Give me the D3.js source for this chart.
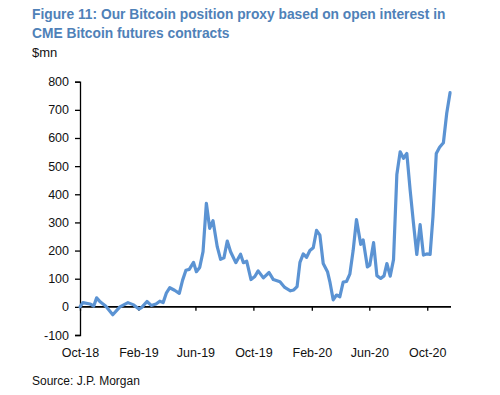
<!DOCTYPE html>
<html>
<head>
<meta charset="utf-8">
<script src="https://cdn.jsdelivr.net/npm/d3@7"></script>
<style>
  html, body { margin: 0; padding: 0; background: #fff; }
  svg { display: block; font-family: "Liberation Sans", Arial, sans-serif; }
</style>
</head>
<body>
<svg id="chart" width="500" height="395"></svg>
<script>
const titleLines = ["Figure 11: Our Bitcoin position proxy based on open interest in", "CME Bitcoin futures contracts"];
const unitLabel = "$mn";
const sourceText = "Source: J.P. Morgan";

const dates = [
  "2018-10-01","2018-10-07","2018-10-22","2018-10-30","2018-11-05","2018-11-13","2018-11-24","2018-12-09","2018-12-24",
  "2019-01-10","2019-01-22","2019-02-02","2019-02-08","2019-02-19","2019-02-28","2019-03-10","2019-03-18","2019-03-25",
  "2019-04-01","2019-04-08","2019-04-18","2019-04-28","2019-05-05","2019-05-12","2019-05-19","2019-05-28","2019-06-03",
  "2019-06-10","2019-06-17","2019-06-24","2019-07-01","2019-07-08","2019-07-17","2019-07-24","2019-07-31","2019-08-07",
  "2019-08-14","2019-08-25","2019-09-04","2019-09-10","2019-09-17","2019-09-26","2019-10-04","2019-10-11","2019-10-22",
  "2019-11-03","2019-11-12","2019-11-26","2019-12-06","2019-12-18","2019-12-25","2020-01-01","2020-01-07","2020-01-14",
  "2020-01-21","2020-01-28","2020-02-04","2020-02-11","2020-02-18","2020-02-25","2020-03-05","2020-03-10","2020-03-17",
  "2020-03-24","2020-03-31","2020-04-07","2020-04-14","2020-04-21","2020-04-28","2020-05-05","2020-05-14","2020-05-19",
  "2020-05-28","2020-06-02","2020-06-10","2020-06-17","2020-06-25","2020-07-02","2020-07-08","2020-07-15","2020-07-22",
  "2020-07-29","2020-08-05","2020-08-12","2020-08-19","2020-08-26","2020-09-02","2020-09-09","2020-09-16","2020-09-23",
  "2020-09-30","2020-10-07","2020-10-13","2020-10-20","2020-10-27","2020-11-04","2020-11-11","2020-11-18"
];
const values = [
  0, 15, 10, 3, 32, 17, 3, -28, 0,
  15, 7, -8, -2, 19, 5, 10, 20, 15,
  50, 68, 59, 48, 95, 130, 133, 158, 125,
  140, 196, 368, 279, 306, 213, 169, 174, 234,
  196, 157, 187, 157, 162, 97, 108, 128, 103,
  122, 97, 89, 69, 57, 60, 72, 158, 188,
  176, 200, 210, 272, 255, 154, 125, 89, 25,
  42, 36, 88, 90, 116, 200, 310, 222, 238,
  142, 148, 228, 111, 101, 110, 154, 109, 168,
  470, 551, 528, 545, 415, 297, 186, 292, 184,
  188, 186, 320, 545, 567, 583, 688, 761
];
const yTicks = [-100, 0, 100, 200, 300, 400, 500, 600, 700, 800];
const xTickDates = ["2018-10-01","2019-02-01","2019-06-01","2019-10-01","2020-02-01","2020-06-01","2020-10-01"];
const xDomain = ["2018-10-01", "2020-11-20"];

const parse = d3.timeParse("%Y-%m-%d");
const data = dates.map((d, i) => ({ date: parse(d), value: values[i] }));

const svg = d3.select("#chart");
const x = d3.scaleTime().domain(xDomain.map(parse)).range([80, 451]);
const y = d3.scaleLinear().domain([-100, 800]).range([335, 81.7]);

// Title (horizontally condensed to match the reference's narrow face)
const title = svg.append("g").attr("fill", "#4f81b8").attr("font-weight", "bold").attr("font-size", 15.5);
title.append("text").attr("transform", "translate(32,19) scale(0.89,1)").text(titleLines[0]);
title.append("text").attr("transform", "translate(32,38) scale(0.89,1)").text(titleLines[1]);

svg.append("text").attr("x", 32).attr("y", 57).attr("font-size", 13).attr("fill", "#111")
  .text(unitLabel);

// Y axis
const yAxis = svg.append("g").attr("transform", "translate(80,0)")
  .call(d3.axisLeft(y).tickValues(yTicks).tickSize(5).tickPadding(6).tickFormat(d => String(d)));
yAxis.select(".domain").attr("stroke", "#000").attr("stroke-width", 1.3);
yAxis.selectAll(".tick line").attr("stroke", "#000").attr("stroke-width", 1.3);
yAxis.selectAll(".tick text").attr("font-size", 12.5).attr("fill", "#111")
  .attr("font-family", "'Liberation Sans', Arial, sans-serif");

// X axis at zero
const y0 = y(0);
const xAxis = svg.append("g").attr("transform", `translate(0,${y0})`)
  .call(d3.axisBottom(x).tickValues(xTickDates.map(parse)).tickSize(4).tickFormat(d3.timeFormat("%b-%y")));
xAxis.select(".domain").attr("stroke", "#000").attr("stroke-width", 1.6)
  .attr("d", `M80,0H451`);
xAxis.selectAll(".tick line").attr("stroke", "#000").attr("stroke-width", 1.3);
xAxis.selectAll(".tick text").attr("font-size", 12.5).attr("fill", "#111")
  .attr("font-family", "'Liberation Sans', Arial, sans-serif")
  .attr("y", 357 - y0).attr("dy", 0);

// Line
const line = d3.line().x(d => x(d.date)).y(d => y(d.value));
svg.append("path").datum(data).attr("d", line)
  .attr("fill", "none").attr("stroke", "#5b93d3").attr("stroke-width", 3.2)
  .attr("stroke-linejoin", "round").attr("stroke-linecap", "round");

// Source
svg.append("text").attr("x", 32).attr("y", 385).attr("font-size", 12).attr("fill", "#111")
  .text(sourceText);
</script>
</body>
</html>
